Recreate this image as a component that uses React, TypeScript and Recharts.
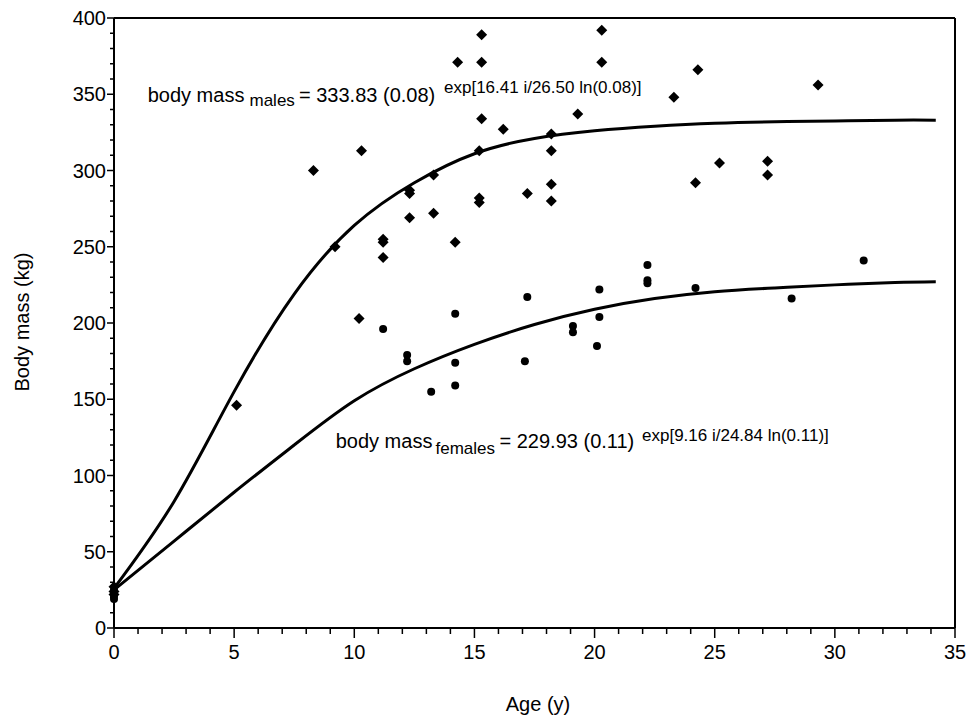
import React from "react";
import { ComposedChart, Line, Scatter, XAxis, YAxis, ReferenceLine } from "recharts";

// Growth in body mass with age, males (diamonds) vs females (dots), with the
// fitted Gompertz curves.

const FONT = '"Liberation Sans", Arial, Helvetica, sans-serif';

const X_TICKS = [0, 1, 2, 3, 4, 5, 6, 7, 8, 9, 10, 11, 12, 13, 14, 15, 16, 17, 18, 19, 20, 21, 22, 23, 24, 25, 26, 27, 28, 29, 30, 31, 32, 33, 34, 35];
const X_LABELS = [0, 5, 10, 15, 20, 25, 30, 35];
const Y_TICKS = [0, 10, 20, 30, 40, 50, 60, 70, 80, 90, 100, 110, 120, 130, 140, 150, 160, 170, 180, 190, 200, 210, 220, 230, 240, 250, 260, 270, 280, 290, 300, 310, 320, 330, 340, 350, 360, 370, 380, 390, 400];
const Y_LABELS = [0, 50, 100, 150, 200, 250, 300, 350, 400];

const MALES = [
  { x: 0, y: 27 }, { x: 0, y: 24 }, { x: 0, y: 22 },
  { x: 5.1, y: 146 },
  { x: 8.3, y: 300 },
  { x: 9.2, y: 250 },
  { x: 10.2, y: 203 }, { x: 10.3, y: 313 },
  { x: 11.2, y: 255 }, { x: 11.2, y: 253 }, { x: 11.2, y: 243 },
  { x: 12.3, y: 287 }, { x: 12.3, y: 285 }, { x: 12.3, y: 269 },
  { x: 13.3, y: 297 }, { x: 13.3, y: 272 },
  { x: 14.2, y: 253 }, { x: 14.3, y: 371 },
  { x: 15.2, y: 313 }, { x: 15.2, y: 282 }, { x: 15.2, y: 279 },
  { x: 15.3, y: 334 }, { x: 15.3, y: 371 }, { x: 15.3, y: 389 },
  { x: 16.2, y: 327 },
  { x: 17.2, y: 285 },
  { x: 18.2, y: 324 }, { x: 18.2, y: 313 }, { x: 18.2, y: 291 }, { x: 18.2, y: 280 },
  { x: 19.3, y: 337 },
  { x: 20.3, y: 371 }, { x: 20.3, y: 392 },
  { x: 23.3, y: 348 },
  { x: 24.2, y: 292 }, { x: 24.3, y: 366 },
  { x: 25.2, y: 305 },
  { x: 27.2, y: 306 }, { x: 27.2, y: 297 },
  { x: 29.3, y: 356 },
];

const FEMALES = [
  { x: 0, y: 25 }, { x: 0, y: 21 }, { x: 0, y: 19 },
  { x: 11.2, y: 196 },
  { x: 12.2, y: 179 }, { x: 12.2, y: 175 },
  { x: 13.2, y: 155 },
  { x: 14.2, y: 206 }, { x: 14.2, y: 174 }, { x: 14.2, y: 159 },
  { x: 17.1, y: 175 }, { x: 17.2, y: 217 },
  { x: 19.1, y: 198 }, { x: 19.1, y: 194 },
  { x: 20.1, y: 185 }, { x: 20.2, y: 222 }, { x: 20.2, y: 204 },
  { x: 22.2, y: 238 }, { x: 22.2, y: 228 }, { x: 22.2, y: 226 },
  { x: 24.2, y: 223 },
  { x: 28.2, y: 216 },
  { x: 31.2, y: 241 },
];

// fitted curves, read every 2.5 years off the figure
const CURVE_AGES = [0, 2.5, 5, 7.5, 10, 12.5, 15, 17.5, 20, 22.5, 25, 27.5, 30, 32.5, 34.2];
const MALE_FIT = [26, 83, 155, 219, 264, 292, 311, 321, 326, 329, 331, 332, 332.5, 333, 333];
const FEMALE_FIT = [25, 57, 89, 120, 149, 170, 186, 199, 209, 216, 220.5, 223, 225, 226.5, 227];

const maleCurve = CURVE_AGES.map((x, i) => ({ x, y: MALE_FIT[i] }));
const femaleCurve = CURVE_AGES.map((x, i) => ({ x, y: FEMALE_FIT[i] }));

function Diamond({ cx, cy }: { cx?: number; cy?: number }) {
  if (cx == null || cy == null) return null;
  const r = 5.5;
  return <polygon points={`${cx},${cy - r} ${cx + r},${cy} ${cx},${cy + r} ${cx - r},${cy}`} fill="#000" />;
}

function Dot({ cx, cy }: { cx?: number; cy?: number }) {
  if (cx == null || cy == null) return null;
  return <circle cx={cx} cy={cy} r={4} fill="#000" />;
}

function XTick({ x, y, payload }: any) {
  const major = X_LABELS.includes(payload.value);
  return (
    <g>
      <line x1={x} x2={x} y1={y} y2={y + (major ? 10 : 6)} stroke="#000" strokeWidth={1.5} />
      {major && (
        <text x={x} y={y + 31} textAnchor="middle" fontSize={20} fontFamily={FONT} fill="#000">
          {payload.value}
        </text>
      )}
    </g>
  );
}

function YTick({ x, y, payload }: any) {
  const major = Y_LABELS.includes(payload.value);
  return (
    <g>
      <line x1={x} x2={x - (major ? 7 : 4)} y1={y} y2={y} stroke="#000" strokeWidth={1.5} />
      {major && (
        <text x={x - 8} y={y} dy="0.36em" textAnchor="end" fontSize={20} fontFamily={FONT} fill="#000">
          {payload.value}
        </text>
      )}
    </g>
  );
}

export default function App() {
  return (
    <div style={{ position: "absolute", left: 0, top: 0, width: 968, height: 716, background: "#fff" }}>
      <ComposedChart width={968} height={716} margin={{ top: 18, right: 13, bottom: 0, left: 0 }}>
        <XAxis
          type="number"
          dataKey="x"
          domain={[0, 35]}
          ticks={X_TICKS}
          interval={0}
          height={88}
          tickLine={false}
          tickSize={0}
          tickMargin={0}
          tick={<XTick />}
          axisLine={{ stroke: "#000", strokeWidth: 2 }}
        />
        <YAxis
          type="number"
          dataKey="y"
          domain={[0, 400]}
          ticks={Y_TICKS}
          interval={0}
          width={114}
          tickLine={false}
          tickSize={0}
          tickMargin={0}
          tick={<YTick />}
          axisLine={{ stroke: "#000", strokeWidth: 2 }}
        />
        <ReferenceLine y={400} stroke="#000" strokeWidth={2} />
        <ReferenceLine x={35} stroke="#000" strokeWidth={2} />
        <Line data={maleCurve} dataKey="y" type="natural" stroke="#000" strokeWidth={3} dot={false} isAnimationActive={false} />
        <Line data={femaleCurve} dataKey="y" type="natural" stroke="#000" strokeWidth={3} dot={false} isAnimationActive={false} />
        <Scatter data={MALES} dataKey="y" shape={<Diamond />} isAnimationActive={false} />
        <Scatter data={FEMALES} dataKey="y" shape={<Dot />} isAnimationActive={false} />
      </ComposedChart>
      <svg width={968} height={716} style={{ position: "absolute", left: 0, top: 0, pointerEvents: "none" }} fontFamily={FONT} fill="#000">
        <text fontSize={20}>
          <tspan x={147.7} y={101.5}>body mass</tspan>
          <tspan x={249.5} y={106} fontSize={17}>males</tspan>
          <tspan x={299} y={101.5}>= 333.83 (0.08)</tspan>
          <tspan x={444} y={93} fontSize={17}>exp[16.41 i/26.50 ln(0.08)]</tspan>
        </text>
        <text fontSize={20}>
          <tspan x={335.7} y={448}>body mass</tspan>
          <tspan x={435.5} y={454} fontSize={17}>females</tspan>
          <tspan x={499.5} y={448}>= 229.93 (0.11)</tspan>
          <tspan x={642} y={440.5} fontSize={17}>exp[9.16 i/24.84 ln(0.11)]</tspan>
        </text>
        <text x={538} y={711} textAnchor="middle" fontSize={20}>Age (y)</text>
        <text x={28.5} y={322} textAnchor="middle" fontSize={20} transform="rotate(-90 28.5 322)">
          Body mass (kg)
        </text>
      </svg>
    </div>
  );
}
